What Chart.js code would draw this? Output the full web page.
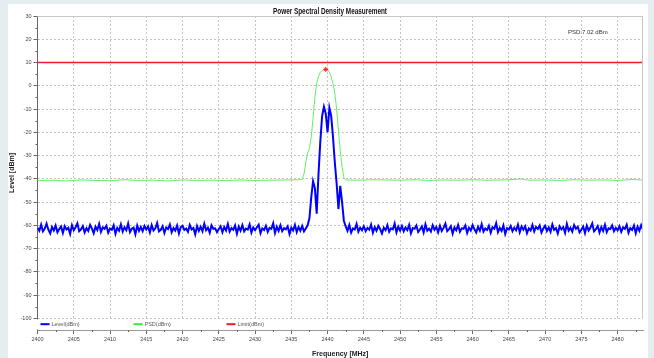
<!DOCTYPE html>
<html lang="en">
<head>
<meta charset="UTF-8">
<title>Power Spectral Density Measurement</title>
<script src="https://cdn.jsdelivr.net/npm/chart.js"></script>
<style>
  body { margin: 0; background: #e6edf1; width: 654px; height: 358px; overflow: hidden; }
  .panel { position: absolute; left: 8px; top: 4px; width: 640px; height: 354px; background: #fff; }
</style>
</head>
<body>
<div class="panel"><canvas id="psdChart" width="640" height="354"></canvas></div>
<script>
// Level trace, one sample every 0.25 MHz starting at 2400 MHz
const levelStart = 2400;
const levelStep = 0.25;
const levelDbm = [
  -61.0,-62.3,-59.7,-62.6,-61.4,-59.3,-61.9,-63.5,-60.7,-62.2,-60.1,-63.0,-61.6,-60.5,-63.3,-60.4,-61.8,-61.1,-63.7,-59.9,
  -62.1,-60.8,-59.1,-62.5,-61.7,-60.3,-63.1,-61.2,-62.4,-59.8,-61.3,-63.4,-60.6,-62.0,-59.4,-62.8,-60.9,-61.5,-60.2,-63.2,
  -61.4,-61.9,-60.0,-63.6,-61.1,-62.3,-59.6,-62.7,-60.8,-62.1,-59.2,-62.9,-61.5,-61.0,-63.8,-60.1,-62.4,-60.7,-62.5,-60.3,
  -61.8,-60.5,-63.1,-59.9,-62.2,-61.3,-59.0,-62.6,-61.9,-60.4,-63.3,-60.9,-61.6,-59.7,-63.0,-61.2,-62.3,-60.1,-63.5,-60.8,
  -60.2,-62.0,-61.4,-62.8,-59.8,-61.7,-61.1,-63.9,-60.3,-62.4,-60.6,-62.5,-59.3,-62.1,-61.0,-63.2,-60.0,-61.5,-61.3,-62.9,
  -61.6,-60.4,-63.0,-60.7,-62.2,-59.4,-62.7,-61.2,-61.9,-60.1,-63.6,-60.5,-62.3,-59.9,-62.6,-61.4,-61.8,-59.6,-63.1,-60.9,
  -62.1,-60.8,-59.7,-63.4,-61.3,-62.0,-60.2,-62.8,-61.1,-61.5,-59.1,-63.3,-60.6,-62.4,-60.0,-62.5,-61.2,-61.7,-60.4,-63.7,
  -61.0,-62.2,-59.8,-62.9,-60.7,-62.3,-60.3,-62.6,-61.4,-60.0,-57.0,-48.0,-41.0,-44.0,-55.0,-38.0,-24.0,-13.0,-9.0,-12.0,
  -20.0,-9.5,-13.0,-22.0,-33.0,-42.0,-53.0,-43.0,-50.0,-58.0,-60.5,-62.4,-59.9,-63.1,-61.3,-61.8,-59.4,-62.7,-61.0,-62.1,
  -60.4,-62.5,-61.1,-61.9,-59.7,-63.2,-60.8,-62.3,-60.2,-61.6,-63.5,-61.0,-62.1,-59.9,-62.8,-61.3,-61.7,-59.2,-63.0,-60.6,
  -62.2,-60.3,-62.6,-60.9,-62.0,-59.8,-63.4,-61.2,-61.5,-60.1,-62.9,-61.8,-60.5,-63.1,-59.6,-62.3,-61.4,-62.7,-60.0,-61.9,
  -60.7,-63.0,-60.2,-62.4,-61.1,-59.3,-62.5,-61.6,-60.4,-63.6,-60.9,-62.1,-59.8,-62.8,-61.3,-61.5,-60.1,-63.3,-61.0,-62.2,
  -59.9,-61.7,-63.1,-60.6,-62.3,-59.5,-62.7,-61.4,-62.0,-60.2,-63.2,-60.8,-61.5,-59.1,-62.9,-61.1,-62.4,-60.0,-63.7,-61.2,
  -61.8,-60.3,-62.5,-61.0,-62.1,-59.7,-63.0,-60.5,-61.9,-60.4,-63.4,-61.3,-62.2,-59.8,-62.6,-60.7,-61.6,-60.1,-63.1,-61.4,
  -60.2,-62.4,-60.9,-62.8,-59.6,-62.0,-61.2,-63.5,-60.4,-61.7,-60.8,-63.2,-59.4,-62.3,-61.1,-62.7,-59.9,-61.5,-60.6,-63.0,
  -61.9,-60.5,-63.3,-60.1,-62.2,-61.0,-59.2,-62.6,-61.7,-60.3,-63.1,-60.7,-62.4,-59.8,-62.9,-61.3,-61.6,-60.0,-62.5,-61.1,
  -62.1,-60.4,-62.8,-60.9,-61.5,-59.7,-63.2,-61.2,-62.0,-60.1,-63.4,-60.6,-62.3,-59.9,-61.8
];

// PSD trace (smoothed)
const psdFreq = [2400, 2402, 2404, 2406, 2408, 2410, 2412, 2414, 2416, 2418, 2420, 2422, 2424, 2426, 2428, 2430, 2432, 2434, 2436,
  2436.5, 2436.75, 2437, 2437.25, 2437.5, 2437.75, 2438, 2438.25, 2438.5, 2438.75, 2439, 2439.25, 2439.5, 2439.75,
  2440, 2440.25, 2440.5, 2440.75, 2441, 2441.25, 2441.5, 2441.75, 2442, 2442.25, 2442.5,
  2444, 2446, 2448, 2450, 2452, 2454, 2456, 2458, 2460, 2462, 2464, 2466, 2466.5, 2467, 2468, 2470, 2472, 2474, 2476, 2478, 2480, 2482, 2483.5];
const psdDbm = [-40.8, -40.6, -40.9, -40.5, -40.7, -40.8, -40.4, -40.7, -40.6, -40.9, -40.5, -40.7, -40.6, -40.8, -40.5, -40.7, -40.6, -40.5, -40.4,
  -40.2, -38, -33, -29, -27, -22, -14, -5, 1, 4, 5.8, 6.6, 6.95, 7.02,
  6.8, 5.8, 3.8, 1, -3, -10, -19, -28, -35, -39.5, -40.5,
  -40.6, -40.4, -40.5, -40.6, -40.4, -40.7, -40.5, -40.6, -40.4, -40.6, -40.5, -40.3, -40.0, -40.3, -40.6, -40.5, -40.7, -40.4, -40.6, -40.5, -40.7, -40.3, -40.5];

const limitFreq = [2400, 2483.5];
const limitDbm = [10, 10];

const peakFreq = 2439.75;
const peakDbm = 7.02;

const yTicks = { min: -105, max: 30, step: 10 };
const xTicks = { min: 2400, max: 2483.5, step: 5 };

const TITLE = 'Power Spectral Density Measurement';
const FONT = '"Liberation Sans", Arial, sans-serif';

const levelPts = levelDbm.map((v, i) => ({ x: levelStart + i * levelStep, y: v }));
const psdPts = psdFreq.map((f, i) => ({ x: f, y: psdDbm[i] }));
const limitPts = limitFreq.map((f, i) => ({ x: f, y: limitDbm[i] }));

const legendItems = [
  { label: 'Level(dBm)', color: '#0000ff' },
  { label: 'PSD(dBm)', color: '#33ee33' },
  { label: 'Limit(dBm)', color: '#ee1c2a' }
];

// title (narrow), frame, minor ticks, legend strip and PSD note
const extras = {
  id: 'extras',
  afterDraw(chart) {
    const { ctx, chartArea: a, scales: { x, y } } = chart;
    const yb = y.getPixelForValue(-100);
    ctx.save();
    ctx.fillStyle = '#fff';
    ctx.fillRect(a.left - 1, yb + 1, a.right - a.left + 1, a.bottom - yb - 1.6);

    ctx.strokeStyle = '#c8c8c8';
    ctx.lineWidth = 1;
    ctx.beginPath();
    ctx.moveTo(a.left, a.top + 0.5); ctx.lineTo(a.right, a.top + 0.5);
    ctx.moveTo(a.right - 0.5, a.top); ctx.lineTo(a.right - 0.5, yb);
    ctx.stroke();

    ctx.strokeStyle = '#666';
    ctx.beginPath();
    for (let v = -95; v < 30; v += 10) {
      const py = Math.round(y.getPixelForValue(v)) + 0.5;
      ctx.moveTo(a.left - 2, py); ctx.lineTo(a.left, py);
    }
    for (let f = 2402.5; f < 2483.5; f += 5) {
      const px = Math.round(x.getPixelForValue(f)) + 0.5;
      ctx.moveTo(px, a.bottom); ctx.lineTo(px, a.bottom + 2);
    }
    ctx.stroke();

    const ly = (yb + a.bottom) / 2;
    ctx.font = '5.5px ' + FONT;
    ctx.textBaseline = 'middle';
    legendItems.forEach((it, i) => {
      const lx = a.left + 3 + i * 93;
      ctx.fillStyle = it.color;
      ctx.fillRect(lx, ly - 1, 9, 2);
      ctx.fillStyle = '#555';
      ctx.fillText(it.label, lx + 11, ly);
    });

    ctx.font = '6px ' + FONT;
    ctx.fillStyle = '#333';
    ctx.fillText('PSD:' + peakDbm.toFixed(2) + ' dBm', a.right - 75, a.top + 16);

    // chart title, squeezed like the narrow original face
    ctx.font = 'bold 9px ' + FONT;
    ctx.fillStyle = '#111';
    ctx.textAlign = 'center';
    ctx.translate(322, 7.5);
    ctx.scale(0.71, 1);
    ctx.fillText(TITLE, 0, 0);
    ctx.restore();
  }
};

const ctx = document.getElementById('psdChart').getContext('2d');
new Chart(ctx, {
  type: 'line',
  data: {
    datasets: [
      { label: 'Limit(dBm)', data: limitPts, borderColor: '#ee1c2a', borderWidth: 1.5, pointRadius: 0 },
      { label: 'Peak', data: [{ x: peakFreq, y: peakDbm }], showLine: false, pointStyle: 'star', pointRadius: 2.5, borderColor: '#ff2020', borderWidth: 1 },
      { label: 'Level(dBm)', data: levelPts, borderColor: '#0000ff', borderWidth: 2, pointRadius: 0 },
      { label: 'PSD(dBm)', data: psdPts, borderColor: '#66ee66', borderWidth: 1, pointRadius: 0 }
    ]
  },
  options: {
    responsive: false,
    animation: false,
    layout: { padding: { left: 0, right: 5, top: 12, bottom: 0 } },
    plugins: {
      legend: { display: false },
      tooltip: { enabled: false },
      title: { display: false }
    },
    scales: {
      x: {
        type: 'linear',
        min: xTicks.min,
        max: xTicks.max,
        afterFit: s => { s.height = 28; },
        ticks: { stepSize: xTicks.step, includeBounds: false, autoSkip: false, maxRotation: 0, padding: 2, color: '#444', font: { family: FONT, size: 5.5 }, callback: v => String(v) },
        grid: { color: '#c4c4c4', tickLength: 4, tickColor: '#666' },
        border: { color: '#999', dash: [2, 2] },
        title: { display: true, text: 'Frequency [MHz]', color: '#222', font: { family: FONT, size: 7, weight: 'bold' }, padding: { top: 1, bottom: 0 } }
      },
      y: {
        min: yTicks.min,
        max: yTicks.max,
        afterFit: s => { s.width = 29.5; },
        ticks: { stepSize: yTicks.step, includeBounds: false, padding: 2, color: '#444', font: { family: FONT, size: 5.5 } },
        grid: { color: '#c4c4c4', tickLength: 4, tickColor: '#666' },
        border: { color: '#666', dash: [2, 2] },
        title: { display: true, text: 'Level [dBm]', color: '#222', font: { family: FONT, size: 7, weight: 'bold' }, padding: 0 }
      }
    }
  },
  plugins: [extras]
});
</script>
</body>
</html>
